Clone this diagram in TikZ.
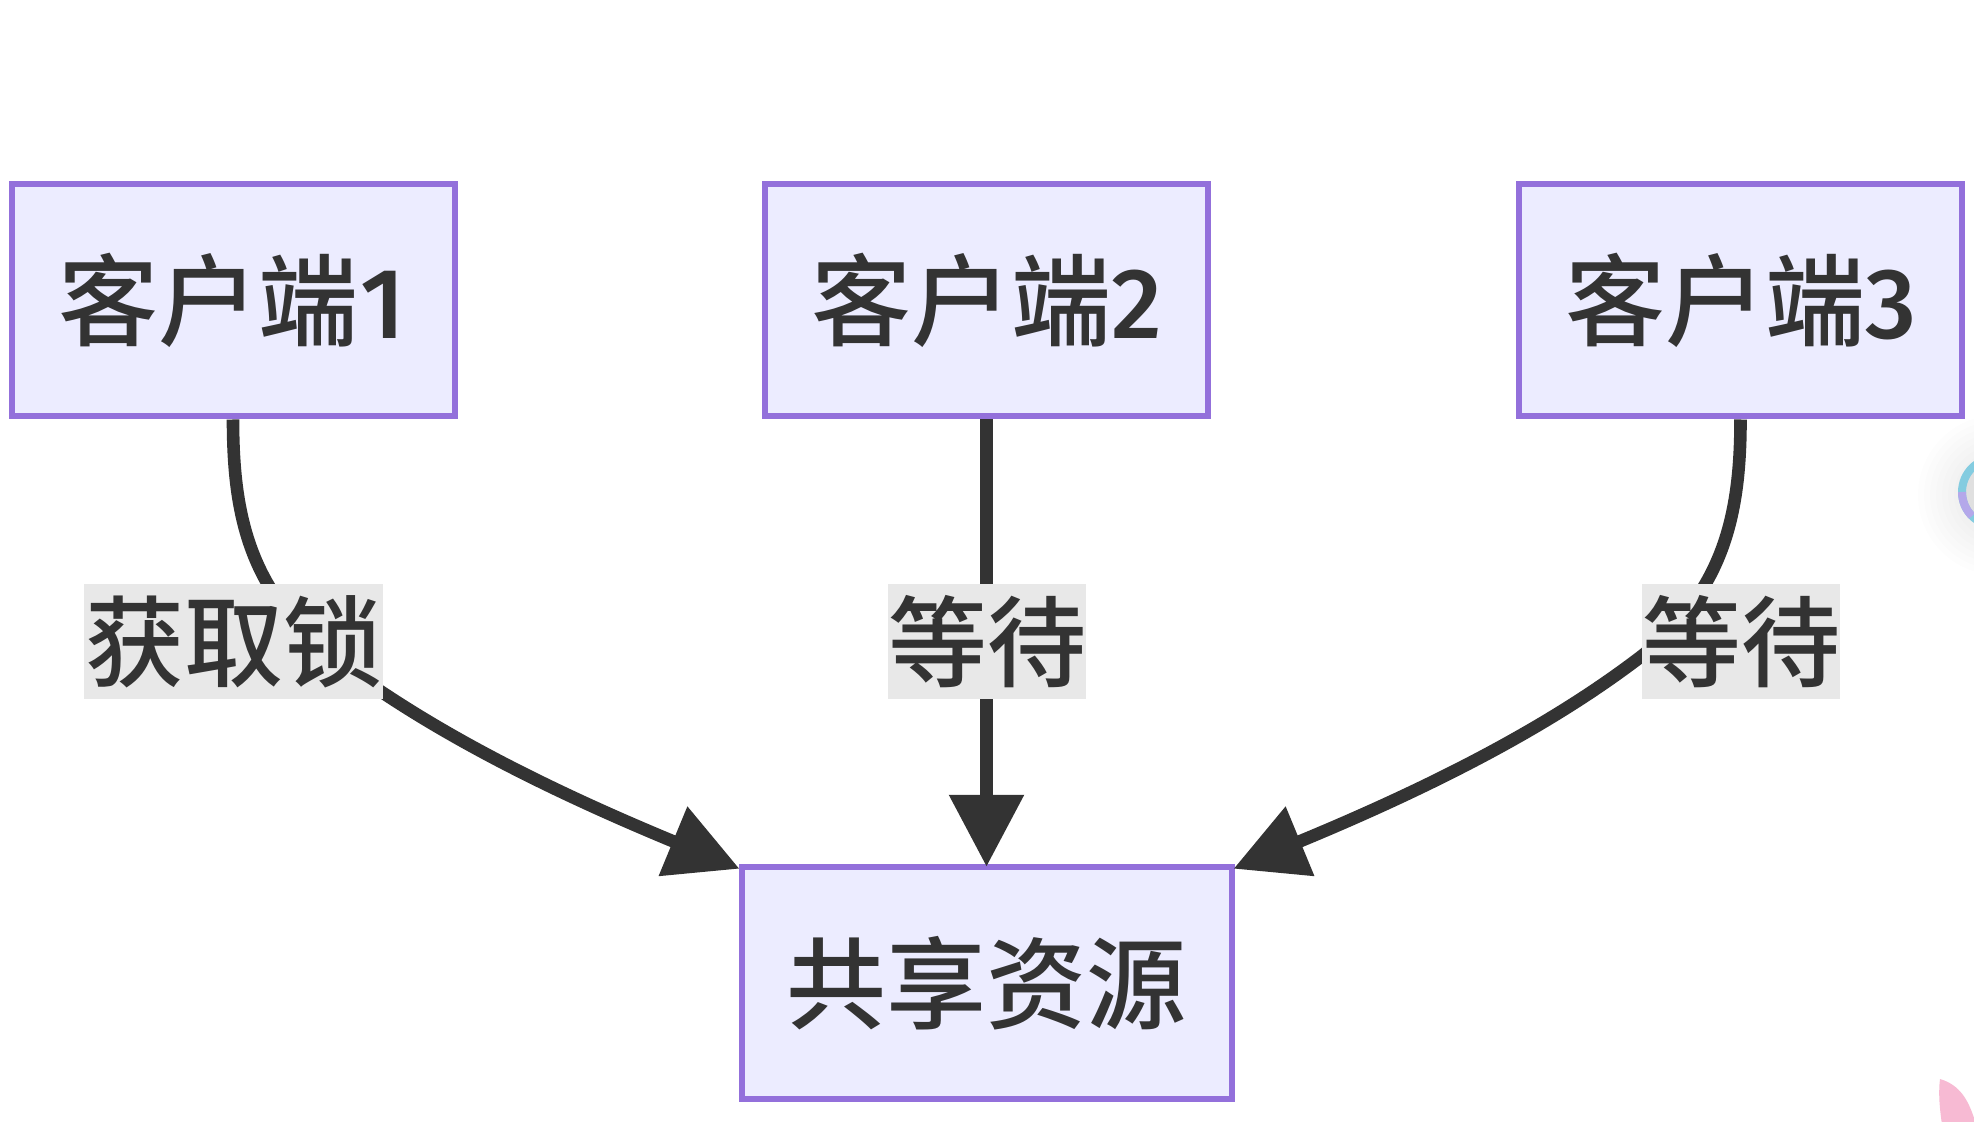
\documentclass[tikz,border=0pt]{standalone}
\usepackage{fontspec}
\setmainfont{Noto Sans CJK SC Medium}
\newfontfamily\digitfont{Fira Sans Medium}
\newcommand{\dgt}[1]{\makebox[25pt][c]{\digitfont #1}}
\usetikzlibrary{arrows.meta}
\definecolor{boxfill}{HTML}{ECECFF}
\definecolor{boxline}{HTML}{9370DB}
\definecolor{ink}{HTML}{333333}
\definecolor{labelbg}{HTML}{E8E8E8}
\definecolor{ringblue}{HTML}{84CCE0}
\definecolor{ringviolet}{HTML}{B4A8EA}
\definecolor{petal}{HTML}{F7BAD3}
\tikzset{
  flownode/.style={draw=boxline,fill=boxfill,line width=3pt,rectangle,inner sep=0pt,outer sep=0pt,
    minimum width=221.5pt,minimum height=116.25pt,text=ink,font=\fontsize{50pt}{60pt}\selectfont},
  edgelabel/.style={fill=labelbg,rectangle,inner sep=0pt,outer sep=0pt,minimum height=57.5pt,
    text=ink,font=\fontsize{49.5pt}{60pt}\selectfont},
  flowedge/.style={draw=ink,line width=6.3pt,shorten <=1.5pt,-{Triangle[length=36pt,width=36pt]}}
}
\begin{document}
\begin{tikzpicture}[x=0.5pt,y=-0.5pt]
\useasboundingbox (0,0) rectangle (1974,1122);
\clip (0,0) rectangle (1974,1122);
\fill[white] (0,0) rectangle (1974,1122);
% decorative fragments at the right edge
\foreach \r in {44,50,56,62,68,74,80}{\fill[black,opacity=.006] (1998,495) circle (\r);}
\fill[black!12] (1996,492) circle (34);
\draw[line width=4pt,draw=ringblue] (1996,492) circle (34);
\draw[line width=4pt,draw=ringviolet] (1962,492) arc (180:135:34);
% petal
\fill[petal] (1940,1079) .. controls (1960,1085) and (1968,1100) .. (1974,1118) -- (1974,1125) -- (1942,1125) .. controls (1940,1110) and (1938,1095) .. (1940,1079) -- cycle;
% nodes
\node[flownode] (c1) at (233,300.25) {客户端\dgt{1}};
\node[flownode] (c2) at (986.5,300.25) {客户端\dgt{2}};
\node[flownode] (c3) at (1740.5,300.25) {客户端\dgt{3}};
\node[flownode,minimum width=245pt] (res) at (986.5,983) {共享资源};
% connectors
\coordinate (t1) at ([shift={(-2,2)}]res.north west);
\coordinate (t3) at ([shift={(2,2)}]res.north east);
\draw[flowedge] (c1.south) .. controls +(0,100) and (250,590) .. (330,655) .. controls (408,715) and (515,776) .. (t1);
\draw[flowedge] (c2.south) -- (res.north);
\draw[flowedge] (c3.south) .. controls +(0,100) and (1723,590) .. (1643,655) .. controls (1565,715) and (1458,776) .. (t3);
% labels
\node[edgelabel,minimum width=149.5pt] (l1) at (233.5,641.5) {获取锁};
\node[edgelabel,minimum width=99pt] (l2) at (987,641.5) {等待};
\node[edgelabel,minimum width=99pt] (l3) at (1741,641.5) {等待};
\end{tikzpicture}
\end{document}
